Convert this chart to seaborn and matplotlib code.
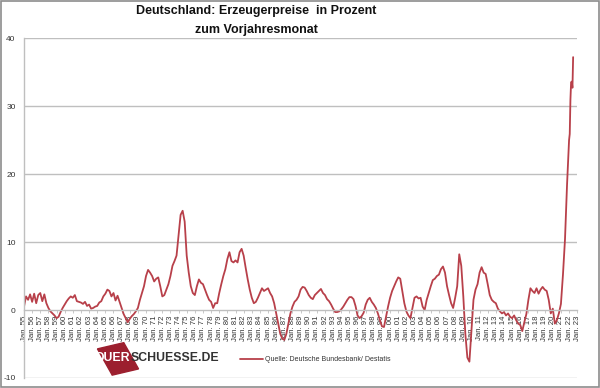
import numpy as np
import pandas as pd
import matplotlib
matplotlib.use("Agg")
import matplotlib.pyplot as plt
import seaborn as sns
from matplotlib.patches import Rectangle

# ===============================
# Data (quarterly steps, monthly at the end)
# ===============================
q_values = [
    0.5, 2.0, 1.5, 2.3,     # 1955
    1.2, 2.4, 1.0, 2.2,     # 1956
    2.5, 1.3, 2.3, 1.0,     # 1957
    0.3, -0.2, -0.5, -0.8,  # 1958
    -1.2, -1.0, -0.3, 0.3,  # 1959
    0.8, 1.3, 1.7, 2.0,     # 1960
    1.8, 2.2, 1.3, 1.2,     # 1961
    1.1, 0.9, 1.2, 0.6,     # 1962
    0.8, 0.2, 0.3, 0.5,     # 1963
    0.6, 1.1, 1.3, 2.0,     # 1964
    2.4, 3.0, 2.8, 2.0,     # 1965
    2.5, 1.4, 2.1, 1.2,     # 1966
    0.3, -0.6, -1.2, -1.8,  # 1967
    -1.3, -0.9, -0.6, -0.2, # 1968
    0.3, 1.5, 2.5, 3.5,     # 1969
    5.0, 5.9, 5.5, 5.0,     # 1970
    4.2, 4.6, 4.8, 3.5,     # 1971
    2.0, 2.2, 3.0, 3.8,     # 1972
    5.0, 6.5, 7.2, 8.0,     # 1973
    11.0, 14.0, 14.6, 13.0, # 1974
    8.0, 5.5, 3.5, 2.5,     # 1975
    2.2, 3.5, 4.5, 4.0,     # 1976
    3.8, 3.0, 2.2, 1.5,     # 1977
    1.2, 0.3, 1.0, 1.0,     # 1978
    2.5, 3.8, 5.0, 6.0,     # 1979
    7.5, 8.5, 7.2, 7.0,     # 1980
    7.3, 7.0, 8.5, 9.0,     # 1981
    8.0, 6.2, 4.5, 3.0,     # 1982
    1.8, 1.0, 1.2, 1.8,     # 1983
    2.5, 3.2, 2.8, 3.0,     # 1984
    3.2, 2.5, 2.0, 1.0,     # 1985
    -0.5, -2.0, -3.5, -4.2, # 1986
    -4.4, -3.5, -2.0, -0.5, # 1987
    0.5, 1.2, 1.5, 2.0,     # 1988
    3.0, 3.4, 3.3, 2.8,     # 1989
    2.2, 1.8, 1.6, 2.2,     # 1990
    2.5, 2.8, 3.1, 2.5,     # 1991
    2.2, 1.6, 1.3, 0.8,     # 1992
    0.2, -0.3, -0.3, -0.2,  # 1993
    0.1, 0.5, 1.0, 1.5,     # 1994
    1.9, 1.9, 1.6, 0.6,     # 1995
    -0.8, -1.2, -0.9, -0.4, # 1996
    0.8, 1.5, 1.8, 1.2,     # 1997
    0.8, 0.3, -0.5, -1.5,   # 1998
    -2.4, -2.5, -1.0, 0.5,  # 1999
    1.8, 2.8, 3.5, 4.2,     # 2000
    4.8, 4.6, 2.8, 1.0,     # 2001
    -0.2, -0.8, -1.2, 0.3,  # 2002
    1.8, 2.0, 1.7, 1.8,     # 2003
    0.5, 0.0, 1.5, 2.5,     # 2004
    3.5, 4.4, 4.6, 5.0,     # 2005
    5.2, 6.0, 6.4, 5.5,     # 2006
    3.5, 2.2, 1.0, 0.3,     # 2007
    1.8, 3.5, 8.2, 6.5,     # 2008
    2.0, -3.5, -7.0, -7.6,  # 2009
    -3.0, 1.5, 3.0, 3.8,    # 2010
    5.5, 6.3, 5.5, 5.3,     # 2011
    3.8, 2.2, 1.5, 1.2,     # 2012
    1.0, 0.2, -0.2, -0.5,   # 2013
    -0.3, -0.8, -0.5, -1.0, # 2014
    -1.2, -0.8, -1.5, -2.0, # 2015
    -2.2, -3.1, -1.8, -0.6, # 2016
    1.5, 3.2, 2.8, 2.5,     # 2017
    3.2, 2.4, 3.0, 3.4,     # 2018
    3.0, 2.8, 1.5, -0.5,    # 2019
    0.2, -2.0, -1.5, -0.5,  # 2020
    0.9, 5.2, 10.4, 18.4,   # 2021
]
q_years = [1955 + i * 0.25 for i in range(len(q_values))]

# 2022 monthly (Jan - Jul)
m_years = [2022 + i / 12 for i in range(7)]
m_values = [25.0, 25.9, 30.9, 33.5, 33.6, 32.7, 37.2]

df = pd.DataFrame({"jahr": q_years + m_years, "wert": q_values + m_values})

tick_years = list(range(1955, 2024))
tick_labels = [f"Jan. {y % 100:02d}" for y in tick_years]
y_ticks = [-10, 0, 10, 20, 30, 40]

line_color = "#B8404A"
grid_color = "#BFBFBF"

# ===============================
# Plot
# ===============================
sns.set_theme(style="white")
plt.rcParams["font.family"] = ["Liberation Sans", "DejaVu Sans"]

fig = plt.figure(figsize=(6, 3.88), dpi=100)
ax = fig.add_axes([0.04, 0.0258, 0.922, 0.876])

sns.lineplot(data=df, x="jahr", y="wert", ax=ax, color=line_color,
             linewidth=1.3, label="Quelle: Deutsche Bundesbank/ Destatis")

# spines first (moving a spine resets the tick settings)
for side in ["top", "right"]:
    ax.spines[side].set_visible(False)
ax.spines["left"].set_color(grid_color)
ax.spines["left"].set_linewidth(1)
ax.spines["bottom"].set_position(("data", 0))
ax.spines["bottom"].set_color(grid_color)
ax.spines["bottom"].set_linewidth(1)

ax.set_xlim(1955, 2023)
ax.set_ylim(-10, 40)
ax.set_xlabel("")
ax.set_ylabel("")

for yv in [-10, 10, 20, 30, 40]:
    ax.axhline(yv, color=grid_color, linewidth=1, zorder=0)

ax.set_yticks(y_ticks)
ax.set_yticklabels([str(v) for v in y_ticks], fontsize=6, color="#333333")
ax.tick_params(axis="y", length=0, pad=6)

ax.set_xticks(tick_years)
ax.set_xticklabels(tick_labels, rotation=90, fontsize=5.6, color="#333333")
ax.tick_params(axis="x", length=2.5, width=0.6, color=grid_color, pad=1.5,
               direction="out", bottom=True)

# legend
leg = ax.legend(loc="lower left", bbox_to_anchor=(0.38, 0.025), frameon=False,
                fontsize=5, handlelength=3.2, handletextpad=0.4)
for t in leg.get_texts():
    t.set_color("#333333")

# title
fig.text(0.427, 0.972, "Deutschland: Erzeugerpreise  in Prozent", ha="center",
         va="center", fontsize=9, fontweight="bold", color="#111111")
fig.text(0.427, 0.923, "zum Vorjahresmonat", ha="center", va="center",
         fontsize=9, fontweight="bold", color="#111111")

# logo
fig.patches.append(Rectangle((0.1733, 0.039), 0.0467, 0.072, angle=20,
                             rotation_point="center", color="#9C1F2E",
                             transform=fig.transFigure, figure=fig, zorder=5))
fig.text(0.157, 0.077, "QUER", ha="left", va="center", fontsize=8.8,
         fontweight="bold", color="white", zorder=6)
fig.text(0.218, 0.077, "SCHUESSE.DE", ha="left", va="center", fontsize=8.8,
         fontweight="bold", color="#333333", zorder=6)

# outer frame
fig.patches.append(Rectangle((0.001, 0.002), 0.997, 0.996, fill=False,
                             edgecolor="#8C8C8C", linewidth=1.2,
                             transform=fig.transFigure, figure=fig))

fig.savefig("out.png", dpi=100, facecolor="white")
